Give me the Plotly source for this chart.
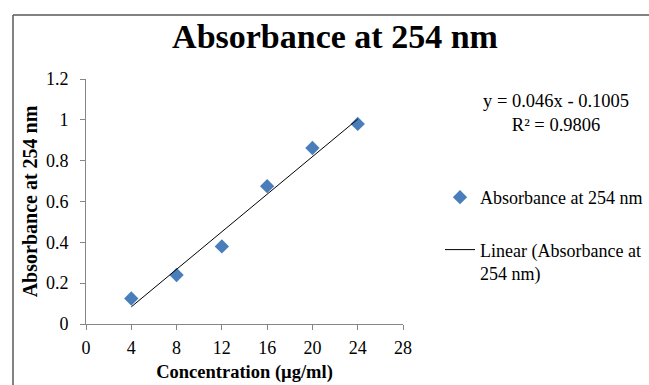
import numpy as np
import plotly.graph_objects as go

# ---- data ----
concentration = [4, 8, 12, 16, 20, 24]
absorbance = [0.125, 0.24, 0.38, 0.675, 0.862, 0.98]
x_ticks = [0, 4, 8, 12, 16, 20, 24, 28]
y_ticks = [0, 0.2, 0.4, 0.6, 0.8, 1, 1.2]
y_tick_text = ["0", "0.2", "0.4", "0.6", "0.8", "1", "1.2"]
title_text = "Absorbance at 254 nm"
series_name = "Absorbance at 254 nm"
trend_name = "Linear (Absorbance at<br>254 nm)"
equation_text = "y = 0.046x - 0.1005<br>R² = 0.9806"
x_title = "Concentration (µg/ml)"
y_title = "Absorbance at 254 nm"

# ---- layout geometry ----
W, H = 649, 385
ML, MR, MT, MB = 86, 246, 79, 61
PW, PH = W - ML - MR, H - MT - MB


def px(x):
    return (x - ML) / PW


def py(y):
    return (H - MB - y) / PH


FONT = "Liberation Serif, Times New Roman, serif"

# linear trend computed from the data
slope, intercept = np.polyfit(concentration, absorbance, 1)
trend_x = [min(concentration), max(concentration)]
trend_y = [slope * v + intercept for v in trend_x]

fig = go.Figure()
fig.add_trace(go.Scatter(
    x=concentration, y=absorbance, mode="markers", name=series_name,
    legendgroup="a",
    marker=dict(symbol="diamond", size=11, color="#4A7EBB"),
))
fig.add_trace(go.Scatter(
    x=trend_x, y=trend_y, mode="lines", name=trend_name,
    legendgroup="b",
    line=dict(color="black", width=1),
))

axis_common = dict(
    showgrid=False, zeroline=False, showline=True, linecolor="#868686",
    linewidth=1, ticks="outside", ticklen=5, tickcolor="#868686",
    tickfont=dict(family=FONT, size=18, color="black"),
    automargin=False,
)

fig.update_layout(
    width=W, height=H,
    margin=dict(l=ML, r=MR, t=MT, b=MB, autoexpand=False),
    paper_bgcolor="white", plot_bgcolor="white",
    font=dict(family=FONT, color="black"),
    title=dict(text="<b>" + title_text + "</b>", font=dict(family=FONT, size=34, color="black"),
               x=335 / W, xref="container", xanchor="center",
               y=1 - 36 / H, yref="container", yanchor="middle"),
    xaxis=dict(range=[0, 28], tickvals=x_ticks, ticklabelstandoff=2,
               title=dict(text="<b>" + x_title + "</b>", font=dict(family=FONT, size=18.5, color="black"),
                          standoff=8),
               **axis_common),
    yaxis=dict(range=[0, 1.2], tickvals=y_ticks, ticktext=y_tick_text, ticklabelstandoff=8,
               title=dict(text="<b>" + y_title + "</b>", font=dict(family=FONT, size=20, color="black"),
                          standoff=2),
               **axis_common),
    legend=dict(x=px(440), y=py(179), xanchor="left", yanchor="top",
                font=dict(family=FONT, size=18, color="black"),
                tracegroupgap=26, valign="top", itemwidth=30,
                bgcolor="rgba(0,0,0,0)"),
    showlegend=True,
    annotations=[dict(text=equation_text, x=px(556), y=py(113), xref="paper", yref="paper",
                      xanchor="center", yanchor="middle", showarrow=False, align="center",
                      font=dict(family=FONT, size=18.5, color="black"))],
    shapes=[
        dict(type="line", xref="paper", yref="paper", x0=px(13), x1=px(13), y0=py(15), y1=py(400),
             line=dict(color="#595959", width=1.5)),
        dict(type="line", xref="paper", yref="paper", x0=px(13), x1=px(700), y0=py(15), y1=py(15),
             line=dict(color="#595959", width=1.5)),
    ],
)

fig.write_html("out.html", config={"displayModeBar": False},
               post_script="document.body.style.margin='0';document.body.style.overflow='hidden';")
